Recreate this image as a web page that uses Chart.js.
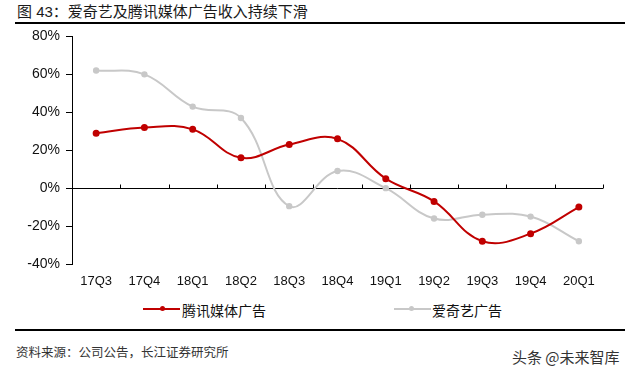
<!DOCTYPE html>
<html>
<head>
<meta charset="utf-8">
<script src="https://cdn.jsdelivr.net/npm/chart.js@4/dist/chart.umd.min.js"></script>
<style>
  html,body{margin:0;padding:0;background:#fff;}
  body{width:640px;height:375px;position:relative;overflow:hidden;font-family:"Liberation Sans","Noto Sans CJK SC",Arial,sans-serif;}
  .abs{position:absolute;white-space:nowrap;}
  #title{left:17px;top:2px;font-size:15px;line-height:20px;color:#1a1a1a;font-family:"Liberation Sans","Noto Sans CJK SC",sans-serif;}
  .rule{position:absolute;left:15px;width:610px;height:2px;background:#000;}
  #wrap{position:absolute;left:0;top:22px;width:640px;height:273px;}
  .lg-line{position:absolute;height:2px;}
  .lg-dot{position:absolute;width:5px;height:5px;border-radius:50%;}
  .lg-txt{font-size:14px;line-height:18px;color:#111;font-family:"Noto Sans CJK SC",sans-serif;}
  #src{left:16px;top:343px;font-size:12.5px;line-height:18px;color:#333;font-family:"Noto Sans CJK SC",sans-serif;}
  #wm{left:512px;top:347px;font-size:15px;line-height:20px;color:#333;font-family:"Noto Sans CJK SC",sans-serif;}
</style>
</head>
<body>
<div id="title" class="abs">图 43：爱奇艺及腾讯媒体广告收入持续下滑</div>
<div class="rule" style="top:22px"></div>
<div id="wrap"><canvas id="c" width="640" height="273"></canvas></div>

<div class="lg-line" style="left:143px;top:308px;width:37px;background:#C00000"></div>
<div class="lg-dot" style="left:160px;top:306px;background:#C00000"></div>
<div class="abs lg-txt" style="left:182px;top:301px">腾讯媒体广告</div>
<div class="lg-line" style="left:394px;top:308px;width:37px;background:#C8C8C8"></div>
<div class="lg-dot" style="left:409px;top:306px;background:#C8C8C8"></div>
<div class="abs lg-txt" style="left:432px;top:301px">爱奇艺广告</div>

<div class="rule" style="top:329px"></div>
<div id="src" class="abs">资料来源：公司公告，长江证券研究所</div>
<div id="wm" class="abs">头条 @未来智库</div>

<script>
// === Data ===
const quarters = ['17Q3','17Q4','18Q1','18Q2','18Q3','18Q4','19Q1','19Q2','19Q3','19Q4','20Q1'];
const tencentAds = [29, 32, 31, 16, 23, 26, 5, -7, -28, -24, -10];
const iqiyiAds = [62, 60, 43, 37, -9.5, 9, 0, -16, -14, -15, -28];
const yTicks = [-40, -20, 0, 20, 40, 60, 80];

// zero line with category tick marks (the x axis sits on 0)
const zeroAxis = {
  id:'zeroAxis',
  beforeDatasetsDraw(chart){
    const {ctx, chartArea:a, scales:{x,y}} = chart;
    const y0 = Math.round(y.getPixelForValue(0)) + 0.5;
    const step = (a.right - a.left) / quarters.length;
    ctx.save();
    ctx.strokeStyle = '#000'; ctx.lineWidth = 1;
    ctx.beginPath(); ctx.moveTo(a.left, y0); ctx.lineTo(a.right, y0);
    for(let i=1;i<=quarters.length;i++){
      const px = Math.round(a.left + i*step) + 0.5;
      ctx.moveTo(px, y0); ctx.lineTo(px, y0-4);
    }
    ctx.stroke(); ctx.restore();
  }
};

const tickFont = {family:'"Liberation Sans", Arial, sans-serif', size:14};

new Chart(document.getElementById('c'), {
  type:'line',
  data:{
    labels: quarters,
    datasets:[
      {label:'腾讯媒体广告', data:tencentAds, borderColor:'#C00000', backgroundColor:'#C00000',
       borderWidth:2, pointRadius:2.5, pointHoverRadius:2.5, tension:0.4, order:0},
      {label:'爱奇艺广告', data:iqiyiAds, borderColor:'#C8C8C8', backgroundColor:'#C8C8C8',
       borderWidth:2, pointRadius:2.2, pointHoverRadius:2.2, tension:0.4, order:1}
    ]
  },
  options:{
    responsive:false, animation:false, events:[],
    layout:{padding:{left:0, right:37, top:7, bottom:0}},
    plugins:{legend:{display:false}, tooltip:{enabled:false}},
    scales:{
      x:{
        offset:true,
        grid:{display:false, drawTicks:false},
        border:{display:false},
        ticks:{color:'#111', font:{...tickFont, size:13}, padding:10, maxRotation:0, autoSkip:false},
        afterFit(s){ s.height = 31; }
      },
      y:{
        min:-40, max:80,
        afterBuildTicks(s){ s.ticks = yTicks.map(v=>({value:v})); },
        grid:{drawOnChartArea:false, color:'#000', tickLength:6},
        border:{display:true, color:'#000', width:1},
        ticks:{color:'#111', font:tickFont, padding:6, callback:v=>v+'%'},
        afterFit(s){ s.width = 72; }
      }
    }
  },
  plugins:[zeroAxis]
});
</script>
</body>
</html>
